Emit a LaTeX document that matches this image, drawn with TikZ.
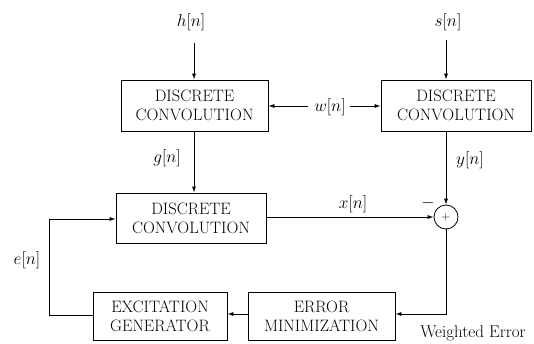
\documentclass[tikz,border=0pt]{standalone}
\usetikzlibrary{arrows.meta}
\begin{document}
\begin{tikzpicture}[x=1pt,y=-1pt,
  line width=0.8pt,
  arr/.style={-{Latex[length=6pt,width=4pt]}},
  blk/.style={draw,rectangle,inner sep=0pt,align=center,font=\fontsize{16.5}{19}\selectfont},
  lab/.style={inner sep=0pt,font=\fontsize{17}{20}\selectfont},
  sumc/.style={draw,circle,minimum size=24pt,inner sep=0pt}]
\useasboundingbox (0,0) rectangle (534,343);
% boxes
\node[blk,minimum width=147pt,minimum height=51pt] (b1) at (194.5,105.5) {DISCRETE\\CONVOLUTION};
\node[blk,minimum width=150pt,minimum height=51pt] (b2) at (456,105.5) {DISCRETE\\CONVOLUTION};
\node[blk,minimum width=150pt,minimum height=50pt] (b3) at (191,218) {DISCRETE\\CONVOLUTION};
\node[blk,minimum width=134pt,minimum height=48pt] (b4) at (160,316) {EXCITATION\\GENERATOR};
\node[blk,minimum width=147pt,minimum height=48pt] (b5) at (321.5,316) {ERROR\\MINIMIZATION};
\node[sumc] (sum) at (446,217) {};
\node[inner sep=0pt,font=\fontsize{12}{12}\selectfont] (plus) at (sum.center) {$+$};
% labels
\node[lab] (h) at (191,22) {$h[n]$};
\node[lab] (s) at (448,22) {$s[n]$};
\node[lab] (w) at (330,107) {$w[n]$};
\node[lab] (g) at (167,158) {$g[n]$};
\node[lab] (y) at (470,160) {$y[n]$};
\node[lab] (x) at (353,204) {$x[n]$};
\node[lab] (e) at (27,260) {$e[n]$};
\node[lab] (minus) at (428,203) {$-$};
\node[inner sep=0pt,font=\fontsize{17}{19}\selectfont] (we) at (473,333) {Weighted Error};
% coordinates
\coordinate (htop) at (194,43);
\coordinate (stop) at (446,40);
\coordinate (wl) at (308,106);
\coordinate (wr) at (350,106);
\coordinate (c1) at (446,314);
\coordinate (c2) at (49,315);
\coordinate (c3) at (49,219);
% connectors
\draw[arr] (htop) -- (htop |- b1.north);
\draw[arr] (stop) -- (stop |- b2.north);
\draw[arr] (wl) -- (b1.east |- wl);
\draw[arr] (wr) -- (b2.west |- wr);
\draw[arr] (b1.south -| htop) -- (htop |- b3.north);
\draw[arr] (b2.south -| sum) -- (sum.north);
\draw[arr] (b3.east |- sum) -- (sum.west);
\draw[arr] (sum.south) -- (c1) -- (b5.east |- c1);
\draw[arr] (b5.west |- c1) -- (b4.east |- c1);
\draw[arr] (b4.west |- c2) -- (c2) -- (c3) -- (b3.west |- c3);
\end{tikzpicture}
\end{document}
